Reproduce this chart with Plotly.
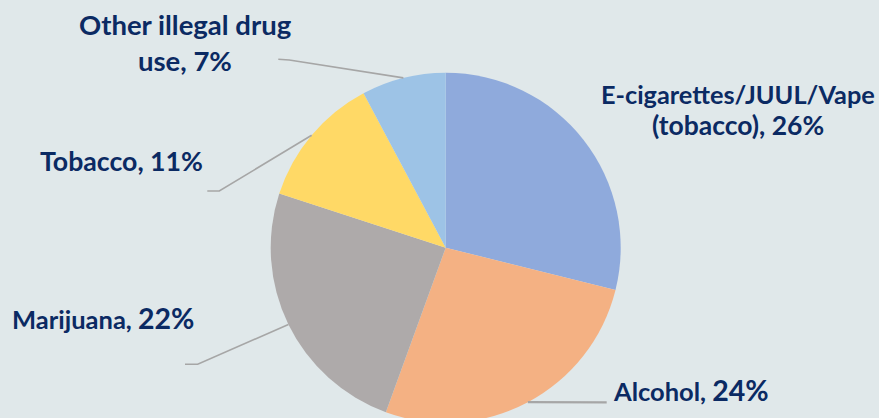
import math
import plotly.graph_objects as go

# ---- data ----
categories = ["E-cigarettes/JUUL/Vape (tobacco)", "Alcohol", "Marijuana", "Tobacco", "Other illegal drug use"]
values = [26, 24, 22, 11, 7]
colors = ["#8FAADC", "#F4B183", "#AEAAAA", "#FFD966", "#9DC3E6"]

# ---- layout constants (pixels, origin top-left) ----
W, H = 879, 424
CX, CY, R = 445.7, 247.7, 175.0
BG = "#E0E8EA"
TXT = "#0B2A63"
FONT = "Lato"
FS = 27

def px(x):
    return x / W

def py(y):
    return 1 - y / H

fig = go.Figure(go.Pie(
    labels=categories, values=values, sort=False, direction="clockwise", rotation=0,
    marker=dict(colors=colors, line=dict(width=0)), textinfo="none",
    hoverinfo="label+percent", showlegend=False,
    domain=dict(x=[px(CX - R), px(CX + R)], y=[py(CY + R), py(CY - R)]),
))

# slice mid-angles from the data (clockwise from 12 o'clock)
total = sum(values)
mids = []
acc = 0
for v in values:
    mids.append((acc + v / 2) / total * 2 * math.pi)
    acc += v

def edge_point(i):
    a = mids[i]
    return CX + R * math.sin(a), CY - R * math.cos(a)

# leader line bends/ends (label layout)
leaders = {
    1: [(606.7, 402.3)],
    2: [(197.7, 364.3), (185.0, 364.3)],
    3: [(219.3, 191.0), (207.3, 191.0)],
    4: [(289.3, 60.0), (278.3, 59.3)],
}
for i, pts in leaders.items():
    x0, y0 = edge_point(i)
    path_pts = [(x0, y0)] + pts
    d = "M " + " L ".join(f"{px(x)},{py(y)}" for x, y in path_pts)
    fig.add_shape(type="path", path=d, xref="paper", yref="paper",
                  line=dict(color="#A6A6A6", width=1.6 if i != 1 else 2.2))

def big(s, size):
    return f"<span style='font-size:{size}px'>{s}</span>"

def pct(i):
    return f"{values[i]}%"

def bold(s):
    return f"<b>{s}</b>"

# annotations: (text, x, baseline y, xanchor, base size, max size)
labels = [
    ("E-cigarettes/JUUL/Vape", 738.3, 104.3, "center", 25.3, 25.3),
    (f"(tobacco), {pct(0)}", 737.5, 136.0, "center", 26.5, 26.5),
    (f"Alcohol, {big(pct(1), 28.5)}", 611.0, 401.7, "left", 25.5, 28.5),
    (f"Marijuana, {big(pct(2), 28.5)}", 10.0, 330.0, "left", 25.5, 28.5),
    (f"Tobacco, {pct(3)}", 38.3, 172.7, "left", 26.7, 26.7),
    ("Other illegal drug", 185.0, 36.5, "center", 27.5, 27.5),
    (f"use, {pct(4)}", 185.0, 71.7, "center", 27.5, 27.5),
]
for text, x, yb, xa, fs, maxfs in labels:
    ybox = yb + 0.213 * maxfs + 1
    fig.add_annotation(text=bold(text), x=px(x), y=py(ybox), xref="paper", yref="paper",
                       xanchor=xa, yanchor="bottom", showarrow=False,
                       font=dict(family=FONT, size=fs, color=TXT))

fig.update_layout(
    width=W, height=H, margin=dict(l=0, r=0, t=0, b=0),
    paper_bgcolor=BG, plot_bgcolor=BG,
)

fig.write_html(
    "out.html",
    config={"displayModeBar": False},
    post_script="document.body.style.margin='0';document.body.style.overflow='hidden';"
                "document.documentElement.style.background='" + BG + "';",
)
